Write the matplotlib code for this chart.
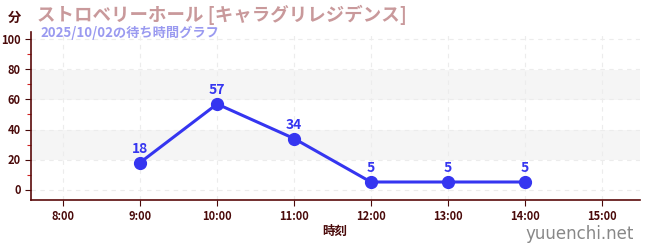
import matplotlib
matplotlib.use("Agg")
import matplotlib.pyplot as plt
from matplotlib.ticker import MultipleLocator, FixedLocator

plt.rcParams["font.family"] = ["Noto Sans CJK JP", "DejaVu Sans"]

hours = [9, 10, 11, 12, 13, 14]
waits = [18, 57, 34, 5, 5, 5]
tick_hours = [8, 9, 10, 11, 12, 13, 14, 15]
tick_labels = [f"{h}:00" for h in tick_hours]
title = "ストロベリーホール [キャラグリレジデンス]"
subtitle = "2025/10/02の待ち時間グラフ"

dark = "#4a0a0a"
line_color = "#3535f0"

fig = plt.figure(figsize=(6.5, 2.5), dpi=100)
ax = fig.add_axes([31 / 650, 50 / 250, 609 / 650, 168 / 250])

ax.set_xlim(7.58, 15.5)
ax.set_ylim(-7, 105)

# light bands behind every other 20-minute step
for lo, hi in [(20, 40), (60, 80)]:
    ax.axhspan(lo, hi, color="#f5f5f5", zorder=0, lw=0)

ax.grid(True, color="#ececec", linestyle=(0, (4, 4)), linewidth=0.8, zorder=1)
ax.set_axisbelow(True)

ax.plot(hours, waits, color=line_color, lw=2.2, marker="o", ms=8.5, zorder=3)
for h, w in zip(hours, waits):
    ax.annotate(str(w), (h, w), xytext=(0, 5), textcoords="offset points",
                ha="center", va="bottom", color=line_color, fontsize=10,
                fontweight="bold")

ax.xaxis.set_major_locator(FixedLocator(tick_hours))
ax.set_xticklabels(tick_labels)
ax.yaxis.set_major_locator(MultipleLocator(20))
ax.yaxis.set_minor_locator(MultipleLocator(10))
ax.tick_params(axis="both", which="major", colors=dark, labelsize=8, length=4, width=0.8)
ax.tick_params(axis="y", which="minor", colors="#d02020", length=3, width=0.8)
for lab in ax.get_xticklabels() + ax.get_yticklabels():
    lab.set_fontweight("bold")

for side in ["top", "right"]:
    ax.spines[side].set_visible(False)
for side in ["left", "bottom"]:
    ax.spines[side].set_color("#5a0a0a")
    ax.spines[side].set_linewidth(1.2)

fig.text(335 / 650, 1 - 231 / 250, "時刻", color=dark, fontsize=9, fontweight="bold",
         va="center", ha="center")
fig.text(8 / 650, 1 - 18 / 250, "分", color=dark, fontsize=9.5, fontweight="bold",
         va="center", ha="left")
fig.text(37 / 650, 1 - 15 / 250, title, color="#c9999b", fontsize=13.3,
         fontweight="bold", va="center", ha="left")
fig.text(40 / 650, 1 - 33 / 250, subtitle, color="#9a9af0", fontsize=9.5,
         fontweight="bold", va="center", ha="left")
fig.text(634 / 650, 1 - 234 / 250, "yuuenchi.net", color="#888888", fontsize=12,
         va="center", ha="right", family=["DejaVu Sans"])

fig.savefig("out.png", dpi=100)
